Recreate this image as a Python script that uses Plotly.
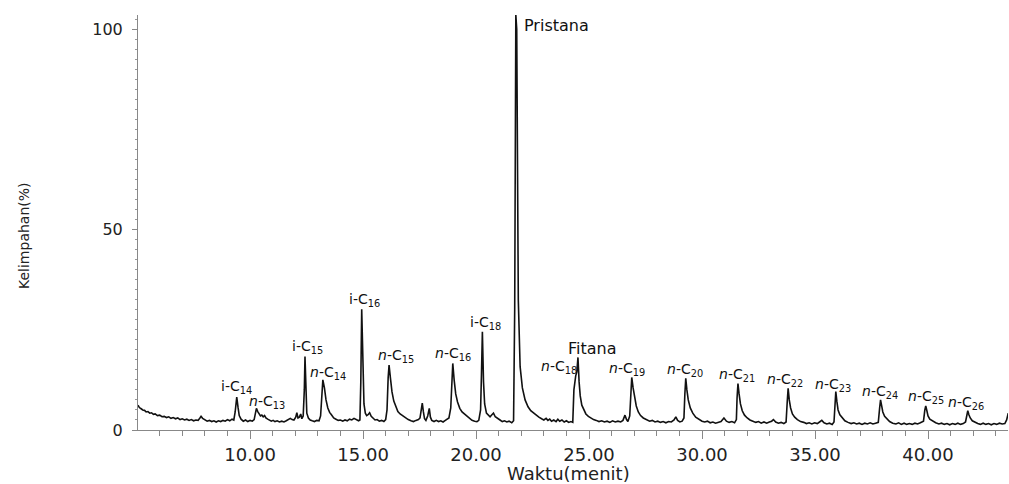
import plotly.graph_objects as go

# ---- data ----
waktu = [
    5.04, 5.10, 5.18, 5.25, 5.33, 5.40, 5.48, 5.56, 5.64, 5.72, 5.80, 5.90, 6.00, 6.10, 6.20, 6.30, 6.40, 6.50, 6.60, 6.70,
    6.80, 6.90, 7.00, 7.10, 7.20, 7.30, 7.40, 7.50, 7.60, 7.70, 7.78, 7.83, 7.90, 8.00, 8.10, 8.20, 8.30, 8.40, 8.50, 8.60,
    8.70, 8.80, 8.90, 9.00, 9.10, 9.20, 9.28,
    9.34, 9.41, 9.47, 9.52, 9.60, 9.70, 9.80, 9.90, 10.00, 10.10, 10.18,
    10.23, 10.28, 10.34, 10.40, 10.46, 10.52, 10.58, 10.64, 10.70, 10.78, 10.86, 10.94, 11.02, 11.10, 11.20, 11.30, 11.40,
    11.50, 11.60, 11.70, 11.78, 11.86, 11.94, 12.02, 12.07, 12.12, 12.18, 12.24, 12.29, 12.35,
    12.40, 12.43, 12.47, 12.51, 12.58, 12.66, 12.75, 12.85, 12.95, 13.05, 13.12,
    13.17, 13.22, 13.29, 13.36, 13.44, 13.52, 13.60, 13.70, 13.80, 13.90, 14.00, 14.10, 14.20, 14.30, 14.40, 14.50, 14.60,
    14.70, 14.80, 14.86,
    14.90, 14.94, 14.99, 15.04, 15.10, 15.16, 15.22, 15.29, 15.36, 15.44, 15.53, 15.62, 15.72, 15.82, 15.92, 16.00, 16.06,
    16.11, 16.15, 16.21, 16.28, 16.36, 16.44, 16.54, 16.64, 16.76, 16.88, 17.00, 17.12, 17.23, 17.34, 17.45, 17.52, 17.58,
    17.62, 17.67, 17.72, 17.78, 17.86, 17.93, 17.98, 18.04, 18.14, 18.24, 18.34, 18.44, 18.54, 18.64, 18.72, 18.80, 18.88,
    18.93, 18.97, 19.03, 19.10, 19.18, 19.28, 19.38, 19.48, 19.59, 19.70, 19.82, 19.94, 20.04, 20.12, 20.20,
    20.24, 20.28, 20.33, 20.38, 20.46, 20.54, 20.62, 20.70, 20.77, 20.85, 20.95, 21.06, 21.16, 21.26, 21.36, 21.46, 21.58,
    21.66,
    21.71, 21.76, 21.80, 21.84, 21.87, 21.95, 22.05, 22.17, 22.30, 22.42, 22.54, 22.66, 22.78, 22.90, 23.00, 23.10, 23.18,
    23.26, 23.34, 23.44, 23.54, 23.62, 23.70, 23.80, 23.90, 24.00, 24.10, 24.20, 24.28,
    24.33, 24.37, 24.41, 24.46, 24.51, 24.56, 24.61, 24.68, 24.76, 24.86, 24.97, 25.08, 25.20, 25.32, 25.44, 25.56, 25.68,
    25.80, 25.92, 26.04, 26.16, 26.28, 26.40, 26.50, 26.59, 26.66, 26.72, 26.80,
    26.85, 26.89, 26.95, 27.01, 27.09, 27.18, 27.28, 27.40, 27.55, 27.68, 27.80, 27.92, 28.04, 28.16, 28.28, 28.40, 28.52,
    28.64, 28.76, 28.84, 28.92, 29.02, 29.12, 29.20,
    29.24, 29.28, 29.33, 29.39, 29.48, 29.59, 29.72, 29.86, 30.00, 30.12, 30.24, 30.36, 30.48, 30.60, 30.72, 30.84, 30.97,
    31.08, 31.20, 31.32, 31.44, 31.52,
    31.55, 31.59, 31.64, 31.70, 31.78, 31.88, 32.00, 32.12, 32.25, 32.38, 32.50, 32.62, 32.74, 32.86, 32.98, 33.08, 33.16,
    33.26, 33.38, 33.50, 33.62, 33.72,
    33.77, 33.81, 33.86, 33.92, 34.00, 34.10, 34.22, 34.36, 34.50, 34.62, 34.74, 34.86, 34.98, 35.10, 35.20, 35.30, 35.40,
    35.52, 35.64, 35.76, 35.84,
    35.88, 35.92, 35.97, 36.02, 36.10, 36.20, 36.32, 36.46, 36.60, 36.72, 36.84, 36.96, 37.08, 37.20, 37.32, 37.44, 37.56,
    37.68, 37.80,
    37.86, 37.90, 37.95, 38.00, 38.08, 38.18, 38.30, 38.44, 38.58, 38.70, 38.82, 38.94, 39.06, 39.18, 39.30, 39.42, 39.54,
    39.66, 39.80,
    39.86, 39.90, 39.95, 40.00, 40.08, 40.20, 40.34, 40.48, 40.60, 40.72, 40.84, 40.96, 41.08, 41.20, 41.32, 41.44, 41.56,
    41.66,
    41.72, 41.76, 41.81, 41.87, 41.96, 42.08, 42.20, 42.32, 42.44, 42.56, 42.68, 42.80, 42.92, 43.04, 43.16, 43.28, 43.40,
    43.48, 43.55,
]
kelimpahan = [
    6.2, 5.6, 5.3, 5.0, 4.9, 4.5, 4.6, 4.2, 4.3, 3.9, 4.0, 3.6, 3.7, 3.3, 3.4, 3.1, 3.3, 2.9, 3.1, 2.8,
    3.0, 2.6, 2.8, 2.5, 2.7, 2.4, 2.6, 2.3, 2.5, 2.4, 3.0, 3.4, 2.9, 2.5, 2.2, 2.4, 2.1, 2.3, 2.0, 2.3,
    2.1, 2.4, 2.2, 2.6, 2.3, 2.7, 2.5,
    4.5, 8.2, 5.5, 3.6, 2.7, 2.2, 2.5, 2.1, 2.4, 2.2, 2.6,
    4.2, 5.4, 4.6, 4.0, 3.5, 3.7, 3.3, 3.6, 3.0, 2.7, 2.5, 2.2, 2.4, 2.1, 2.3, 2.0, 2.2,
    2.0, 2.3, 2.6, 2.9, 2.6, 2.5, 3.2, 4.3, 3.0, 3.2, 4.0, 2.8, 3.5,
    10.0, 18.3, 10.0, 4.2, 3.0, 2.5, 2.3, 2.1, 2.4, 2.3, 3.5,
    9.0, 12.5, 10.5, 7.5, 5.5, 4.4, 3.8, 3.0, 2.7, 2.4, 2.5, 2.2, 2.5, 2.3, 2.7, 2.5, 2.9,
    2.6, 2.3, 2.5,
    12.0, 30.1, 14.0, 6.5, 4.2, 3.6, 3.8, 4.3, 3.4, 2.9, 2.5, 2.6, 2.2, 2.4, 2.1, 2.6, 5.0,
    13.0, 16.2, 13.0, 9.5, 7.2, 5.8, 4.6, 4.0, 3.5, 3.0, 2.6, 2.3, 2.1, 2.4, 2.6, 3.0, 5.0,
    6.7, 4.5, 2.8, 2.4, 3.5, 5.4, 3.2, 2.4, 2.1, 2.4, 2.1, 2.3, 2.0, 2.4, 2.6, 3.0, 5.5,
    12.0, 16.6, 12.5, 9.0, 7.0, 5.4, 4.5, 4.0, 3.4, 2.8, 2.4, 2.2, 2.1, 2.4, 5.0,
    14.0, 24.5, 12.0, 6.5, 4.2, 3.7, 3.3, 3.8, 4.2, 3.3, 2.8, 2.5, 2.1, 2.3, 2.0, 2.2, 1.8,
    2.3,
    30.0, 103.5, 100.0, 60.0, 32.4, 15.8, 10.5, 7.5, 5.8, 4.8, 4.2, 3.6, 3.2, 2.8, 2.5, 2.9, 2.4,
    2.7, 2.2, 2.5, 2.1, 2.7, 2.2, 2.5, 2.0, 2.3, 1.9, 2.1, 1.9,
    10.0, 12.5, 13.5, 14.5, 18.1, 12.0, 8.5, 6.2, 5.0, 4.0, 3.4, 3.0, 2.6, 2.4, 2.1, 2.3, 2.0,
    2.2, 1.9, 2.3, 2.0, 2.2, 2.0, 2.4, 3.7, 2.6, 2.1, 3.5,
    10.0, 13.1, 10.5, 8.0, 6.0, 4.5, 3.6, 3.0, 2.6, 2.2, 2.4, 2.0, 2.2, 1.9, 2.1, 1.8, 2.1,
    2.0, 2.5, 3.3, 2.4, 2.0, 2.2, 3.0,
    9.0, 12.9, 10.0, 7.5, 5.5, 4.2, 3.2, 2.6, 2.2, 2.0, 2.2, 1.8, 2.0, 1.7, 2.0, 2.1, 3.0,
    2.2, 1.9, 2.1, 1.8, 2.6,
    8.0, 11.6, 9.0, 6.5, 4.8, 3.7, 3.0, 2.5, 2.2, 1.9, 2.1, 1.7, 2.0, 1.7, 2.0, 2.2, 2.6,
    2.0, 1.7, 1.9, 1.6, 2.0,
    7.0, 10.4, 7.5, 5.5, 4.0, 3.2, 2.6, 2.1, 1.9, 1.6, 1.8, 1.5, 1.8, 1.6, 2.0, 2.4, 1.8,
    1.5, 1.7, 1.4, 2.0,
    7.0, 9.6, 7.0, 5.0, 3.8, 3.0, 2.3, 1.9, 1.6, 1.8, 1.5, 1.7, 1.4, 1.7, 1.5, 1.8, 1.5,
    1.7, 1.9,
    5.5, 7.5, 6.0, 4.5, 3.4, 2.7, 2.1, 1.7, 1.5, 1.8, 1.4, 1.7, 1.4, 1.6, 1.4, 1.7, 1.5,
    1.8, 2.2,
    5.0, 6.0, 4.8, 3.5, 2.7, 2.2, 1.8, 1.5, 1.7, 1.4, 1.6, 1.3, 1.6, 1.4, 1.7, 1.4, 1.6,
    2.0,
    4.2, 4.8, 3.8, 3.0, 2.3, 1.9, 1.6, 1.4, 1.7, 1.4, 1.6, 1.3, 1.6, 1.4, 1.7, 1.5, 1.6,
    2.5, 4.2,
]

# peak labels
puncak_nama = ["i-C14", "n-C13", "i-C15", "n-C14", "i-C16", "n-C15", "n-C16", "i-C18", "Pristana",
               "n-C18", "Fitana", "n-C19", "n-C20", "n-C21", "n-C22", "n-C23", "n-C24", "n-C25", "n-C26"]
puncak_waktu = [9.41, 10.28, 12.43, 13.22, 14.94, 16.15, 18.97, 20.28, 21.76,
                24.41, 24.51, 26.89, 29.28, 31.59, 33.81, 35.92, 37.90, 39.90, 41.76]
puncak_tinggi = [8.2, 5.4, 18.3, 12.5, 30.1, 16.2, 16.6, 24.5, 103.5,
                 13.5, 18.1, 13.1, 12.9, 11.6, 10.4, 9.6, 7.5, 6.0, 4.8]

x_tick_vals = [10, 15, 20, 25, 30, 35, 40]
x_tick_text = ["10.00", "15.00", "20.00", "25.00", "30.00", "35.00", "40.00"]
y_tick_vals = [0, 50, 100]
y_tick_text = ["0", "50", "100"]

# label pixel offsets (styling only): centre of label relative to the peak apex
label_dx = [0, 11, 3, 5, 3, 7, 0, 3, 6, -17, 15, -5, -1, -1, -3, -3, -1, 0, -2]
label_dy = [10, 6, 10, 7, 9, 9, 9, 9, -10, 9, 9, 8, 8, 8, 8, 7, 8, 9, 8]


def label_html(name):
    if name.startswith("i-C"):
        return "i-C<sub>" + name[3:] + "</sub>"
    if name.startswith("n-C"):
        return "<i>n</i>-C<sub>" + name[3:] + "</sub>"
    return name


FONT = "DejaVu Sans"
fig = go.Figure()
fig.add_trace(go.Scatter(
    x=waktu, y=kelimpahan, mode="lines",
    line=dict(color="#111111", width=1.6),
    hoverinfo="skip", showlegend=False,
))

annotations = []
for name, t, h, dx, dy in zip(puncak_nama, puncak_waktu, puncak_tinggi, label_dx, label_dy):
    is_word = name in ("Pristana", "Fitana")
    ann = dict(
        x=t, y=h, xref="x", yref="y", text=label_html(name), showarrow=False,
        font=dict(family=FONT, size=16 if is_word else 14, color="#111111"),
        xshift=dx, yshift=dy,
        xanchor="center", yanchor="middle",
    )
    if name == "Pristana":
        ann.update(xanchor="left")
    annotations.append(ann)

annotations.append(dict(
    text="Waktu(menit)", xref="paper", yref="paper", x=0.495, y=-0.104,
    xanchor="center", yanchor="middle", showarrow=False,
    font=dict(family=FONT, size=18, color="#222222")))
annotations.append(dict(
    text="Kelimpahan(%)", xref="paper", yref="paper", x=-0.131, y=0.4675,
    xanchor="center", yanchor="middle", textangle=-90, showarrow=False,
    font=dict(family=FONT, size=14, color="#222222")))

fig.update_layout(
    width=1009, height=484,
    margin=dict(l=138, r=1, t=15, b=54),
    paper_bgcolor="white", plot_bgcolor="white",
    annotations=annotations,
    xaxis=dict(
        range=[5.04, 43.54], tickvals=x_tick_vals, ticktext=x_tick_text,
        showgrid=False, zeroline=False, showline=True, linecolor="#888888", linewidth=1,
        ticks="outside", ticklen=8, tickcolor="#888888",
        minor=dict(dtick=1, ticks="outside", ticklen=5, tickcolor="#888888", showgrid=False),
        tickfont=dict(family=FONT, size=18, color="#222222"),
    ),
    yaxis=dict(
        range=[0, 103.5], tickvals=y_tick_vals, ticktext=y_tick_text,
        showgrid=False, zeroline=False, showline=True, linecolor="#888888", linewidth=1,
        ticks="outside", ticklen=5, tickcolor="#888888", ticklabelstandoff=6,
        minor=dict(dtick=2.5, ticks="outside", ticklen=2, tickcolor="#999999", showgrid=False),
        tickfont=dict(family=FONT, size=16, color="#222222"),
    ),
)

fig.write_html(
    "out.html",
    config={"displayModeBar": False},
    post_script="document.body.style.margin='0px';document.body.style.overflow='hidden';",
)
